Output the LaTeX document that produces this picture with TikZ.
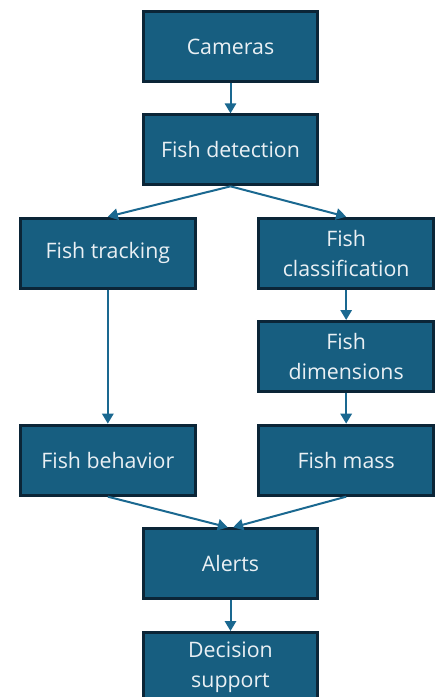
\documentclass[tikz,border=0pt]{standalone}
\usepackage{fontspec}
\setmainfont{Open Sans}
\usetikzlibrary{arrows.meta, positioning}

\definecolor{boxfill}{HTML}{175E80}
\definecolor{boxline}{HTML}{0B2537}
\definecolor{boxtext}{HTML}{EAF0F4}
\definecolor{flowline}{HTML}{1A6890}

\begin{document}
\begin{tikzpicture}[
    x=0.75pt, y=-0.75pt,
    node distance=22.75pt,
    step_node/.style={rectangle, draw=boxline, fill=boxfill, line width=2.25pt,
        minimum width=131pt, minimum height=52.5pt, inner sep=0pt,
        text=boxtext, align=center,
        font=\fontsize{16pt}{22.5pt}\selectfont},
    flow/.style={-{Triangle[width=8.5pt, length=7.5pt]}, draw=flowline, line width=1.5pt}
    ]
    \clip (0,0) rectangle (440,697);

    % Nodes
    \node[step_node] (cam) at (230.5,46.5) {Cameras};
    \node[step_node] (det) [below=of cam] {Fish detection};
    \node[step_node] (track) [below left=22.75pt and -41.25pt of det] {Fish tracking};
    \node[step_node] (class) [below right=22.75pt and -46.5pt of det] {Fish\\classification};
    \node[step_node] (dims) [below=of class] {Fish\\dimensions};
    \node[step_node] (mass) [below=23pt of dims] {Fish mass};
    \node[step_node] (behav) at (track |- mass) {Fish behavior};
    \node[step_node] (alert) [below left=23pt and -46.5pt of mass] {Alerts};
    \node[step_node] (decide) [below=23pt of alert] {Decision\\support};

    % Arrows
    \draw[flow] (cam) -- (det);
    \draw[flow] (det.south) -- (track.north);
    \draw[flow] (det.south) -- (class.north);
    \draw[flow] (class) -- (dims);
    \draw[flow] (dims) -- (mass);
    \draw[flow] (track) -- (behav);
    \draw[flow] (behav.south) -- ([xshift=-2pt]alert.north);
    \draw[flow] (mass.south) -- ([xshift=2pt]alert.north);
    \draw[flow] (alert) -- (decide);
\end{tikzpicture}
\end{document}
